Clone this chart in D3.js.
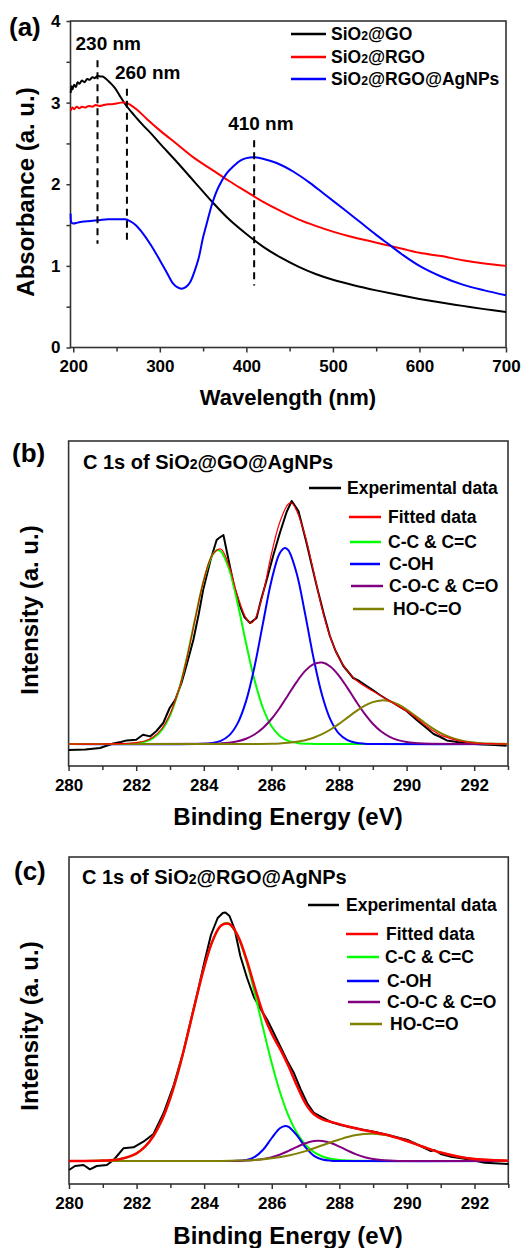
<!DOCTYPE html>
<html>
<head>
<meta charset="utf-8">
<script src="https://cdn.jsdelivr.net/npm/d3@7"></script>
<style>
  body { margin: 0; background: #fff; }
  svg text { font-family: Arial, "Liberation Sans", sans-serif; font-weight: bold; fill: #000; }
</style>
</head>
<body>
<script>
// ---- data: (a) UV-vis absorbance, [wavelength nm, absorbance] ----
const uvGO = [[197,3.12],[198,3.2],[199,3.16],[201,3.22],[203,3.19],[205,3.25],[207,3.23],[210,3.27],[213,3.25],[216,3.29],[219,3.28],[222,3.31],[225,3.3],[228,3.33],[231,3.32],[234,3.32],[238,3.29],[242,3.25],[248,3.18],[254,3.08],[260,2.98],[270,2.85],[280,2.73],[290,2.62],[300,2.5],[320,2.27],[340,2.03],[360,1.79],[380,1.57],[400,1.39],[420,1.23],[440,1.1],[460,0.99],[480,0.9],[500,0.83],[525,0.76],[550,0.7],[575,0.645],[600,0.595],[625,0.55],[650,0.51],[675,0.47],[700,0.435]];
const uvRGO = [[197,2.9],[199,2.94],[201,2.92],[204,2.95],[207,2.93],[210,2.95],[214,2.94],[218,2.96],[222,2.95],[226,2.97],[230,2.96],[235,2.97],[240,2.98],[245,2.98],[250,2.99],[255,3.0],[260,3.0],[265,2.98],[273,2.92],[285,2.8],[300,2.66],[320,2.49],[340,2.32],[360,2.18],[380,2.04],[400,1.91],[420,1.78],[440,1.67],[460,1.57],[480,1.49],[500,1.42],[520,1.36],[540,1.31],[560,1.26],[580,1.21],[600,1.16],[625,1.12],[650,1.07],[675,1.03],[700,1.0]];
const uvAg = [[197,1.64],[198,1.53],[200,1.52],[205,1.53],[210,1.54],[220,1.55],[230,1.56],[240,1.57],[250,1.57],[260,1.57],[265,1.55],[272,1.5],[281,1.39],[290,1.25],[300,1.07],[308,0.92],[315,0.79],[320,0.74],[325,0.72],[330,0.74],[335,0.8],[340,0.93],[345,1.1],[350,1.35],[355,1.55],[361,1.78],[368,1.97],[377,2.13],[385,2.22],[393,2.29],[400,2.32],[410,2.33],[420,2.31],[435,2.26],[455,2.15],[473,2.02],[490,1.88],[512,1.7],[531,1.54],[550,1.38],[565,1.26],[580,1.14],[600,1.0],[625,0.87],[650,0.77],[675,0.7],[700,0.64]];
const uvNames = ['SiO2@GO', 'SiO2@RGO', 'SiO2@RGO@AgNPs'];
const peakLabels = ['230 nm', '260 nm', '410 nm'];
const peakLineX = [228, 262, 409];
const peakLineY = [[1.27, 3.52], [1.31, 3.17], [0.76, 2.54]];
const uvXTicks = [200, 300, 400, 500, 600, 700];
const uvXMinor = [250, 350, 450, 550, 650];
const uvYTicks = [0, 1, 2, 3, 4];
const uvYMinor = [0.5, 1.5, 2.5, 3.5];

// ---- data: (b) C 1s of SiO2@GO@AgNPs, [binding energy eV, intensity a.u.] ----
const bExp = [[280,-6],[280.5,-5.5],[280.93,-4],[281.1,-2],[281.32,0.5],[281.55,2],[281.72,3.6],[282,4.3],[282.2,9.3],[282.41,7.6],[282.6,13],[282.8,21],[282.99,36],[283.15,44],[283.34,61],[283.5,80],[283.69,104],[283.85,130],[283.98,154],[284.2,184],[284.38,204],[284.45,206],[284.58,209],[284.77,178],[284.9,157],[285.07,138],[285.2,127],[285.37,121],[285.56,126],[285.7,145],[285.86,164],[286.05,188],[286.25,211],[286.45,232],[286.6,243],[286.8,233],[287.04,201],[287.2,178],[287.34,158],[287.55,130],[287.73,108],[287.9,93],[288.13,78],[288.3,71],[288.42,66],[288.6,63],[288.82,58],[289,54],[289.21,49],[289.4,45],[289.61,41],[289.8,37],[290,33],[290.3,24],[290.59,16],[290.8,10],[291,7],[291.19,3.6],[291.5,2],[291.78,1],[292,0],[292.27,-0.4],[292.6,-1],[292.96,-1.7]];
const bFit = [[280,0],[281,0],[281.5,0.3],[282,1.5],[282.25,3],[282.5,7],[282.75,15],[283,30],[283.25,53],[283.5,86],[283.75,126],[284,164],[284.25,189],[284.5,195],[284.75,178],[285,148],[285.25,126],[285.4,121],[285.5,124],[285.75,150],[286,190],[286.25,222],[286.5,240],[286.6,241],[286.75,233],[287,208],[287.25,172],[287.5,135],[287.75,106],[288,86],[288.25,73],[288.5,64],[288.75,58],[289,53],[289.25,48],[289.5,43],[289.75,38],[290,33],[290.25,27],[290.5,20],[290.75,14],[291,9],[291.25,6],[291.5,3.5],[291.75,2],[292,1],[292.5,0.3],[293,0]];
const bCC = [[280,0],[281.5,0.1],[281.75,0.2],[282,0.7],[282.25,2.2],[282.5,5.8],[282.75,13.6],[283,28.4],[283.25,52.7],[283.5,86.6],[283.75,126.5],[284,164],[284.25,188.7],[284.4,194],[284.5,192.8],[284.75,174.9],[285,140.8],[285.25,100.7],[285.5,63.9],[285.75,36],[286,18],[286.25,8],[286.5,3.1],[286.75,1.1],[287,0.3],[287.25,0.1],[288,0],[293,0]];
const bCOH = [[280,0],[284,0.2],[284.25,1],[284.5,3.1],[284.75,8.6],[285,20.6],[285.25,42.9],[285.5,77.2],[285.75,120.6],[286,163.1],[286.25,191],[286.4,196],[286.5,193.8],[286.75,170.3],[287,129.6],[287.25,85.4],[287.5,48.8],[287.75,24.1],[288,10.3],[288.25,3.8],[288.5,1.2],[288.75,0.3],[289,0],[293,0]];
const bCOC = [[280,0],[284.25,0.2],[284.5,0.6],[284.75,1.3],[285,2.7],[285.25,5.3],[285.5,9.5],[285.75,16],[286,25],[286.25,36.3],[286.5,49.3],[286.75,62.2],[287,73.1],[287.25,79.9],[287.5,81.4],[287.75,77.2],[288,68.2],[288.25,56.1],[288.5,42.9],[288.75,30.6],[289,20.3],[289.25,12.5],[289.5,7.2],[289.75,3.9],[290,1.9],[290.25,0.9],[290.5,0.4],[290.75,0.2],[291.5,0],[293,0]];
const bHOCO = [[280,0],[285.5,0.1],[286,0.3],[286.25,0.6],[286.5,1.2],[286.75,2.2],[287,3.8],[287.25,6.3],[287.5,9.8],[287.75,14.5],[288,20.1],[288.25,26.4],[288.5,32.6],[288.75,38.1],[289,41.9],[289.25,43.6],[289.5,42.7],[289.75,39.5],[290,34.5],[290.25,28.4],[290.5,22.1],[290.75,16.2],[291,11.2],[291.25,7.3],[291.5,4.5],[291.75,2.6],[292,1.4],[292.25,0.7],[292.5,0.4],[292.75,0.2],[293,0.1]];

// ---- data: (c) C 1s of SiO2@RGO@AgNPs ----
const cExp = [[280,-9],[280.18,-5],[280.43,-4],[280.62,-8.3],[280.82,-5],[281.12,-4],[281.32,1],[281.61,12.7],[281.91,13.7],[282.2,19.3],[282.5,27],[282.8,48],[283.1,76],[283.39,110],[283.6,140],[283.8,168],[284,198],[284.2,226],[284.4,243],[284.55,248],[284.63,248.5],[284.75,245],[284.9,232],[285.07,205],[285.27,183],[285.47,164],[285.67,152],[285.87,141],[286.06,128],[286.26,114],[286.46,100],[286.66,87.7],[286.85,72],[287.05,57.7],[287.25,48],[287.45,44.3],[287.75,39],[288.04,36],[288.5,32.5],[289.03,29.3],[289.5,25.5],[290.02,21],[290.4,15],[290.71,10],[290.81,11],[291,7],[291.31,4.3],[291.8,1.7],[292.3,-1.7],[293,-3]];
const cFit = [[280,0],[281,0.4],[281.5,1.9],[282,7.7],[282.25,14.3],[282.5,25],[282.75,40.9],[283,63.1],[283.25,91.5],[283.5,124.9],[283.75,160.3],[284,193.7],[284.25,220.2],[284.5,235.5],[284.75,237],[285,224.9],[285.25,201.9],[285.5,173.5],[285.75,147.1],[286,127.2],[286.25,111.8],[286.5,94.6],[286.75,74.9],[287,57.4],[287.25,46.7],[287.5,41.7],[287.75,39.1],[288,36.9],[288.25,34.5],[288.5,32.7],[288.75,30.6],[289,29.1],[289.25,27.3],[289.5,25.3],[290,20],[290.5,14],[291,8.5],[291.5,4.6],[292,2.1],[292.5,0.9],[293,0.3]];
const cCC = [[280,0],[280.5,0.05],[281,0.4],[281.25,0.8],[281.5,1.9],[281.75,3.9],[282,7.7],[282.25,14.3],[282.5,25],[282.75,40.9],[283,63.1],[283.25,91.5],[283.5,124.9],[283.75,160.3],[284,193.7],[284.25,220.2],[284.5,235.4],[284.65,238],[284.75,236.8],[285,224.2],[285.25,199.7],[285.5,167.3],[285.75,131.9],[286,97.8],[286.25,68.3],[286.5,44.8],[286.75,27.7],[287,16.1],[287.25,8.8],[287.5,4.5],[287.75,2.2],[288,1],[288.25,0.4],[288.5,0.2],[289,0],[293,0]];
const cCOH = [[280,0],[284.75,0],[285,0.2],[285.25,1.1],[285.5,4.2],[285.75,11.5],[286,23],[286.25,33],[286.4,35],[286.5,34.1],[286.75,25.4],[287,13.6],[287.25,5.2],[287.5,1.5],[287.75,0.3],[288,0],[293,0]];
const cCOC = [[280,0],[284.75,0],[285,0.1],[285.25,0.4],[285.5,0.9],[285.75,1.9],[286,3.7],[286.25,6.5],[286.5,10.2],[286.75,14.2],[287,17.8],[287.25,20],[287.5,20],[287.75,18],[288,14.4],[288.25,10.3],[288.5,6.6],[288.75,3.8],[289,1.9],[289.25,0.9],[289.5,0.4],[289.75,0.1],[290,0],[293,0]];
const cHOCO = [[280,0],[283.5,0],[284,0.04],[284.5,0.1],[285,0.4],[285.5,1.1],[286,2.7],[286.5,5.5],[287,9.9],[287.5,15.7],[288,21.5],[288.5,25.9],[289,27.2],[289.5,24.9],[290,20],[290.5,14],[291,8.5],[291.5,4.6],[292,2.1],[292.5,0.9],[293,0.3]];

const xpsNames = ['Experimental data', 'Fitted data', 'C-C & C=C', 'C-OH', 'C-O-C & C=O', 'HO-C=O'];
const xpsXTicks = [280, 282, 284, 286, 288, 290, 292];
const xpsXMinor = [281, 283, 285, 287, 289, 291, 293];

// ---- styles / layout ----
const frameColor = '#333';
const uvColors = ['#000000', '#ff0000', '#0000ff'];
const xpsColors = ['#000000', '#ff0000', '#00ff00', '#0000ff', '#800080', '#808000'];

const boxA = {left: 70.5, right: 506, top: 21, bottom: 347.5};
const boxB = {left: 68.6, right: 508, top: 441, bottom: 766};
const boxC = {left: 69, right: 508.3, top: 857, bottom: 1184};

const svg = d3.select('body').append('svg')
    .attr('width', 521)
    .attr('height', 1248);

// text with a small "2" in SiO2
function chemText(sel, str, size) {
    const parts = str.split('SiO2');
    parts.forEach((p, i) => {
        if (i > 0) {
            sel.append('tspan').text('SiO');
            sel.append('tspan').style('font-size', (size * 0.7) + 'px').text('2');
        }
        if (p) sel.append('tspan').text(p);
    });
    return sel;
}

function drawFrame(box) {
    svg.append('rect')
        .attr('x', box.left)
        .attr('y', box.top)
        .attr('width', box.right - box.left)
        .attr('height', box.bottom - box.top)
        .attr('fill', 'none')
        .attr('stroke', frameColor)
        .attr('stroke-width', 1.6);
}

function styleAxis(g) {
    g.select('.domain').remove();
    g.selectAll('line').attr('stroke', frameColor).attr('stroke-width', 1.5);
    g.selectAll('text').style('font-size', '17px');
}

function bottomAxis(x, box, major, minor, pad) {
    const gm = svg.append('g')
        .attr('transform', `translate(0,${box.bottom})`)
        .call(d3.axisBottom(x).tickValues(minor).tickSize(4).tickFormat(''));
    styleAxis(gm);
    const g = svg.append('g')
        .attr('transform', `translate(0,${box.bottom})`)
        .call(d3.axisBottom(x).tickValues(major).tickSize(5).tickPadding(pad).tickFormat(d3.format('d')));
    styleAxis(g);
}

function drawLegend(names, colors, layout, size, width) {
    names.forEach((name, i) => {
        const L = layout[i];
        svg.append('line')
            .attr('x1', L.x1).attr('x2', L.x2)
            .attr('y1', L.y).attr('y2', L.y)
            .attr('stroke', colors[i])
            .attr('stroke-width', width);
        chemText(svg.append('text')
            .attr('x', L.tx)
            .attr('y', L.y + size * 0.36)
            .style('font-size', size + 'px'), name, size);
    });
}

function plainText(x, y, str, size, anchor, rotate) {
    const t = svg.append('text')
        .attr('x', x).attr('y', y)
        .attr('text-anchor', anchor || 'start')
        .style('font-size', size + 'px');
    if (rotate) t.attr('transform', `rotate(-90,${x},${y})`);
    return chemText(t, str, size);
}

// ================= (a) UV-vis =================
const xA = d3.scaleLinear().domain([196.8, 700]).range([boxA.left, boxA.right]);
const yA = d3.scaleLinear().domain([0, 4]).range([boxA.bottom, boxA.top]);

drawFrame(boxA);
bottomAxis(xA, boxA, uvXTicks, uvXMinor, 7);

const gyMinor = svg.append('g')
    .attr('transform', `translate(${boxA.left},0)`)
    .call(d3.axisLeft(yA).tickValues(uvYMinor).tickSize(4).tickFormat(''));
styleAxis(gyMinor);
const gy = svg.append('g')
    .attr('transform', `translate(${boxA.left},0)`)
    .call(d3.axisLeft(yA).tickValues(uvYTicks).tickSize(4).tickPadding(6).tickFormat(d3.format('d')));
styleAxis(gy);

const lineA = d3.line().x(d => xA(d[0])).y(d => yA(d[1])).curve(d3.curveCatmullRom);
[uvGO, uvRGO, uvAg].forEach((s, i) => {
    svg.append('path')
        .datum(s)
        .attr('d', lineA)
        .attr('fill', 'none')
        .attr('stroke', uvColors[i])
        .attr('stroke-width', 2);
});

// peak markers
const labelDx = [-22, -12, -26];
peakLabels.forEach((lab, i) => {
    svg.append('line')
        .attr('x1', xA(peakLineX[i])).attr('x2', xA(peakLineX[i]))
        .attr('y1', yA(peakLineY[i][1])).attr('y2', yA(peakLineY[i][0]))
        .attr('stroke', '#000')
        .attr('stroke-width', 2)
        .attr('stroke-dasharray', '7,5');
    plainText(xA(peakLineX[i]) + labelDx[i], yA(peakLineY[i][1]) - 10, lab, 19);
});

drawLegend(uvNames, uvColors, [
    {x1: 291, x2: 326, tx: 331, y: 34},
    {x1: 291, x2: 326, tx: 331, y: 57},
    {x1: 291, x2: 326, tx: 331, y: 79}
], 17.5, 2.5);

plainText(9, 36, '(a)', 26);
plainText(288, 405, 'Wavelength (nm)', 22, 'middle');
plainText(34, 192, 'Absorbance (a. u.)', 24, 'middle', true);

// ================= (b) and (c) XPS =================
function drawXps(box, yDomain, series, widths, order) {
    const x = d3.scaleLinear().domain([280, 293]).range([box.left, box.right]);
    const y = d3.scaleLinear().domain(yDomain).range([box.bottom, box.top]);
    drawFrame(box);
    bottomAxis(x, box, xpsXTicks, xpsXMinor, 8);
    order.forEach(i => {
        const line = d3.line().x(d => x(d[0])).y(d => y(d[1]))
            .curve(i === 0 ? d3.curveLinear : d3.curveCatmullRom);
        svg.append('path')
            .datum(series[i])
            .attr('d', line)
            .attr('fill', 'none')
            .attr('stroke', xpsColors[i])
            .attr('stroke-width', widths[i])
            .attr('stroke-linejoin', 'round');
    });
}

drawXps(boxB, [-22, 303], [bExp, bFit, bCC, bCOH, bCOC, bHOCO],
    [2, 1.2, 2, 2, 2, 2], [0, 2, 3, 4, 5, 1]);
plainText(83, 469, 'C 1s of SiO2@GO@AgNPs', 20);
drawLegend(xpsNames, xpsColors, [
    {x1: 309, x2: 341, tx: 347, y: 488},
    {x1: 349, x2: 381, tx: 388, y: 517},
    {x1: 350, x2: 381, tx: 388, y: 542},
    {x1: 350, x2: 380, tx: 389, y: 564},
    {x1: 351, x2: 383, tx: 389, y: 586},
    {x1: 353, x2: 384, tx: 393, y: 609}
], 17.5, 2.5);
plainText(12, 462, '(b)', 26);
plainText(288, 825, 'Binding Energy (eV)', 24, 'middle');
plainText(38, 610, 'Intensity (a. u.)', 24, 'middle', true);

drawXps(boxC, [-23, 304], [cExp, cFit, cCC, cCOH, cCOC, cHOCO],
    [2, 2.5, 2, 2, 2, 2], [0, 2, 3, 4, 5, 1]);
plainText(82, 884, 'C 1s of SiO2@RGO@AgNPs', 20);
drawLegend(xpsNames, xpsColors, [
    {x1: 308, x2: 339, tx: 346, y: 905},
    {x1: 346, x2: 378, tx: 386, y: 934},
    {x1: 347, x2: 379, tx: 385, y: 957},
    {x1: 347, x2: 379, tx: 387, y: 981},
    {x1: 348, x2: 380, tx: 387, y: 1002},
    {x1: 350, x2: 382, tx: 390, y: 1024}
], 17.5, 2.5);
plainText(14, 880, '(c)', 26);
plainText(288, 1244, 'Binding Energy (eV)', 24, 'middle');
plainText(38, 1026, 'Intensity (a. u.)', 24, 'middle', true);
</script>
</body>
</html>
